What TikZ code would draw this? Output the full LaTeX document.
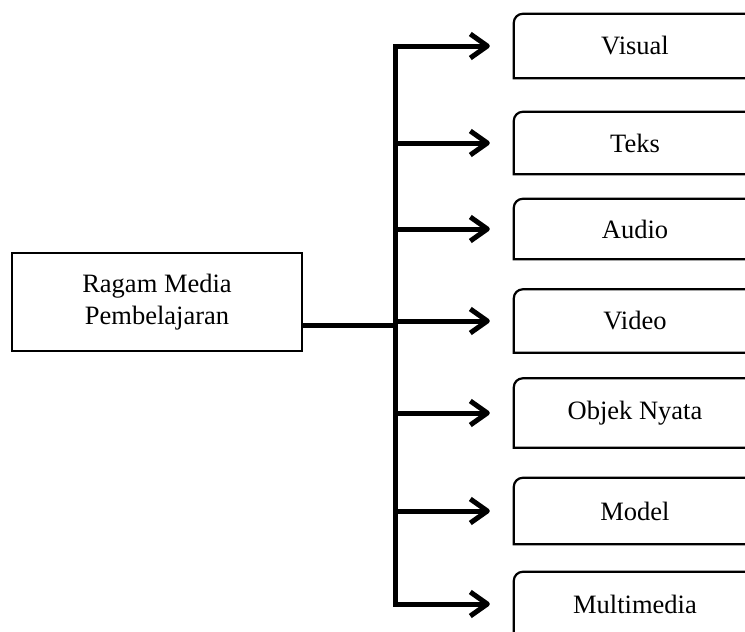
\documentclass[tikz,border=0pt]{standalone}
\usepackage{fontspec}
\setmainfont{Liberation Serif}
\usetikzlibrary{arrows.meta}

\begin{document}
\begin{tikzpicture}[x=1pt,y=-1pt,
    every node/.style={font=\fontsize{26.5}{32}\selectfont},
    trunkline/.style={line width=5pt,line cap=rect},
    arr/.style={line width=5pt,-{Straight Barb[length=17pt,width=24pt,line join=round]}},
    boxline/.style={line width=2.2pt,rounded corners=9pt,line cap=rect}]
    \useasboundingbox (0,0) rectangle (745,632);
    \clip (0,0) rectangle (745,632);

    % Source
    \node[draw,line width=2.4pt,align=center,minimum width=290,minimum height=98,inner sep=0]
      (src) at (157,302) {Ragam Media\\Pembelajaran};

    % Media boxes
    \foreach \n/\y/\h/\t in {visual/46/64/Visual,teks/143/62/Teks,audio/229/60/Audio,
        video/321/63/Video,objek/413/69/Objek Nyata,model/511/66/Model,multi/604/64/Multimedia}{
      \node[minimum width=242,minimum height=\h,inner sep=0] (\n) at (635,\y) {\t};
      \draw[boxline] (\n.south west) -- (\n.north west) -- (\n.north east)
        -- (\n.south east) -- (\n.south west);
    }

    % Trunk and arrows
    \coordinate (tx) at (395,0);
    \coordinate (j) at (395,325);
    \draw[trunkline] (visual.west -| tx) -- (multi.west -| tx);
    \draw[trunkline] (j -| src.east) -- (j);
    \foreach \n in {visual,teks,audio,video,objek,model,multi}
      \draw[arr] (\n.west -| tx) -- ([xshift=-24pt]\n.west);
\end{tikzpicture}
\end{document}
